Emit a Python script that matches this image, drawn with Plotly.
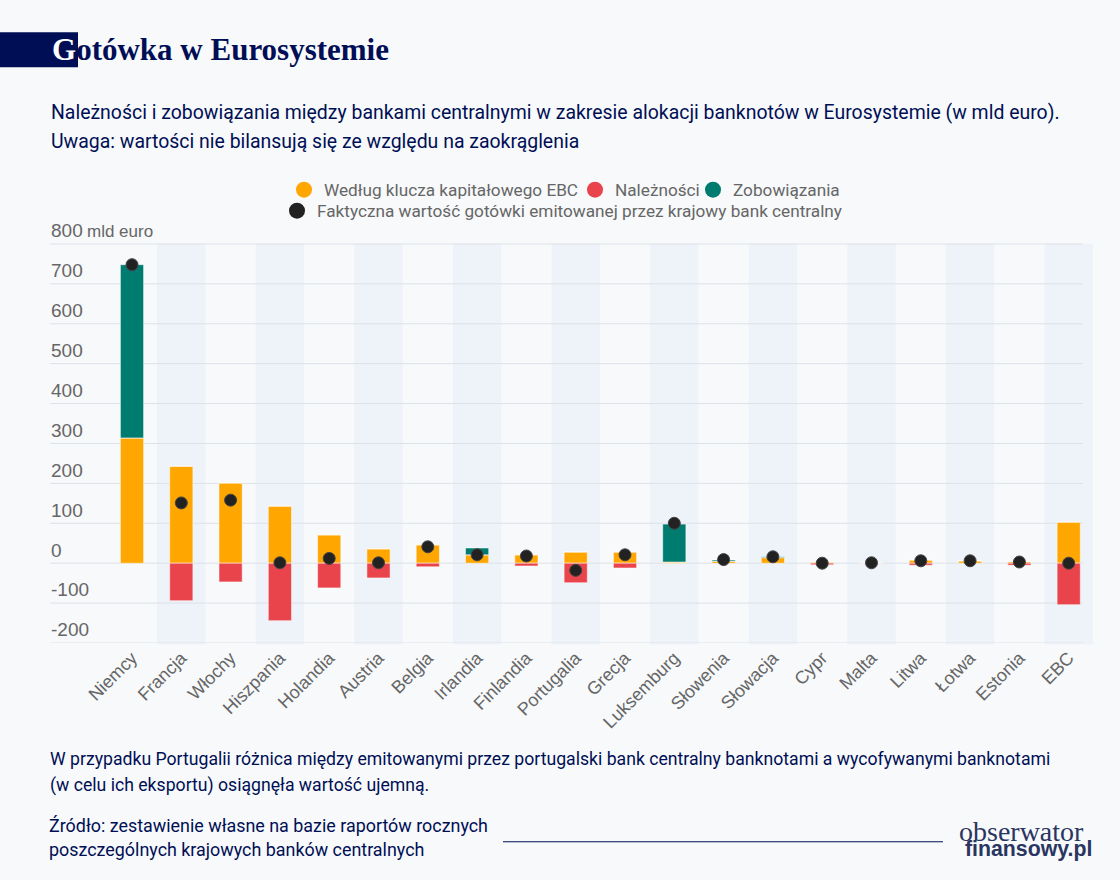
import plotly.graph_objects as go

categories = ["Niemcy","Francja","Włochy","Hiszpania","Holandia","Austria","Belgia","Irlandia","Finlandia","Portugalia","Grecja","Luksemburg","Słowenia","Słowacja","Cypr","Malta","Litwa","Łotwa","Estonia","EBC"]
klucz = [314,243,201,143,71,36,46,21,21,28,28,3,5,14,3,1,8,6,4,103]
naleznosci = [0,-94,-47,-144,-62,-37,-9,0,-7,-49,-12,0,0,0,-4,-1,-5,0,-5,-104]
zobowiazania = [434,0,0,0,0,0,0,17,0,0,0,95,3,2,0,0,0,0,0,0]
faktyczna = [748,151,158,1,12,1,41,21,18,-18,21,100,9,16,0,1,6,6,3,0]
y_ticks = [-200,-100,0,100,200,300,400,500,600,700,800]
y_labels = ["-200","-100","0","100","200","300","400","500","600","700","800"]

NAVY = "#000F55"
GREY = "#666666"
BG = "#F7F9FB"
ORANGE = "#FFA600"
RED = "#E9434B"
GREEN = "#007B70"
DARK = "#222222"
FONT = "Roboto"

L, R, T, B = 50, 1093, 190, 643.5
YTOP = -200 + (B - T) / 0.3995
def px(x): return (x - L) / (R - L)
def py(y): return (B - y) / (B - T)

fig = go.Figure()
edge = dict(color="rgba(255,255,255,0.5)", width=1)
fig.add_bar(x=categories, y=klucz, name="k", marker=dict(color=ORANGE, line=edge), width=0.47, showlegend=False)
fig.add_bar(x=categories, y=naleznosci, name="n", marker=dict(color=RED, line=edge), width=0.47, showlegend=False)
fig.add_bar(x=categories, y=zobowiazania, name="z", marker=dict(color=GREEN, line=edge), width=0.47, showlegend=False)
legend_items = [("Według klucza kapitałowego EBC", ORANGE, "legend", 284, 172),
                ("Należności", RED, "legend2", 575, 172),
                ("Zobowiązania", GREEN, "legend3", 693, 172),
                ("Faktyczna wartość gotówki emitowanej przez krajowy bank centralny", DARK, "legend4", 277, 193)]
for nm, col, lg, _, _ in legend_items:
    fig.add_scatter(x=categories[:1], y=[None], mode="markers", name=nm, marker=dict(color=col, size=16), legend=lg)
fig.add_scatter(x=categories, y=faktyczna, mode="markers", name="Faktyczna",
                marker=dict(color=DARK, size=12, line=dict(color="#444444", width=1)), cliponaxis=False, showlegend=False)

shapes = []
for i in range(1, len(categories), 2):
    shapes.append(dict(type="rect", xref="x", yref="paper", x0=i-0.49, x1=i+0.49, y0=py(645), y1=py(244),
                       fillcolor="#EEF2F9", line_width=0, layer="below"))
for v in y_ticks:
    shapes.append(dict(type="line", xref="paper", yref="y", x0=0, x1=px(1083), y0=v, y1=v,
                       line=dict(color="#DDE2E8", width=1), layer="below"))
shapes.append(dict(type="rect", xref="paper", yref="paper", x0=px(0), x1=px(78), y0=py(67), y1=py(32),
                   fillcolor=NAVY, line_width=0, layer="below"))
shapes.append(dict(type="line", xref="paper", yref="paper", x0=px(503), x1=px(943), y0=py(842.5), y1=py(842.5),
                   line=dict(color=NAVY, width=1)))

def note(x, y, text, size, color=NAVY, family=FONT):
    return dict(xref="paper", yref="paper", x=px(x - 2), y=py(y), text=text, showarrow=False, xanchor="left", yanchor="middle",
                align="left", font=dict(size=size, color=color, family=family))

annotations = [
    note(52, 49, "<b><span style='color:white'>G</span>otówka w Eurosystemie</b>", 31, NAVY, "Liberation Serif"),
    note(51, 112, "Należności i zobowiązania między bankami centralnymi w zakresie alokacji banknotów w Eurosystemie (w mld euro).", 19.45),
    note(51, 141, "Uwaga: wartości nie bilansują się ze względu na zaokrąglenia", 19.45),
    note(87, 232, "mld euro", 17, GREY, "Liberation Sans"),
    note(50, 760, "W przypadku Portugalii różnica między emitowanymi przez portugalski bank centralny banknotami a wycofywanymi banknotami", 17.65),
    note(50, 786, "(w celu ich eksportu) osiągnęła wartość ujemną.", 17.65),
    note(49, 826, "Źródło: zestawienie własne na bazie raportów rocznych", 17.9),
    note(49, 850, "poszczególnych krajowych banków centralnych", 17.9),
    note(959, 832, "obserwator", 28, "#2A3560", "Liberation Serif"),
    note(965, 850, "<b>finansowy.pl</b>", 21.3, "#2A3560", "Liberation Sans"),
]

leg_font = dict(size=17.2, color=GREY, family=FONT)
legends = {lg: dict(orientation="h", x=px(lx), xanchor="left", y=py(ly), yanchor="top", itemsizing="trace",
                    font=leg_font, bgcolor="rgba(0,0,0,0)") for _, _, lg, lx, ly in legend_items}
fig.update_layout(
    width=1120, height=880, autosize=False, showlegend=True,
    margin=dict(l=L, r=1120-R, t=T, b=880-B, pad=0),
    paper_bgcolor=BG, plot_bgcolor=BG, barmode="relative",
    font=dict(family=FONT, color=GREY, size=17),
    xaxis=dict(range=[(L-132)/49.3, (R-132)/49.3], showgrid=False, zeroline=False, tickangle=-45, ticks="",
               tickfont=dict(size=18, color=GREY, family="Liberation Sans"), categoryorder="array", categoryarray=categories, ticklabelstandoff=0),
    yaxis=dict(range=[-200, YTOP], tickvals=y_ticks, ticktext=y_labels, showgrid=False, zeroline=False, ticks="",
               ticklabelposition="inside top", ticklabelstandoff=-2, tickfont=dict(size=19, color=GREY, family="Liberation Sans")),
    shapes=shapes, annotations=annotations, **legends,
)
fig.write_html("out.html", config={"displayModeBar": False},
               post_script="document.body.style.margin='0';document.body.style.background='%s';" % BG)
